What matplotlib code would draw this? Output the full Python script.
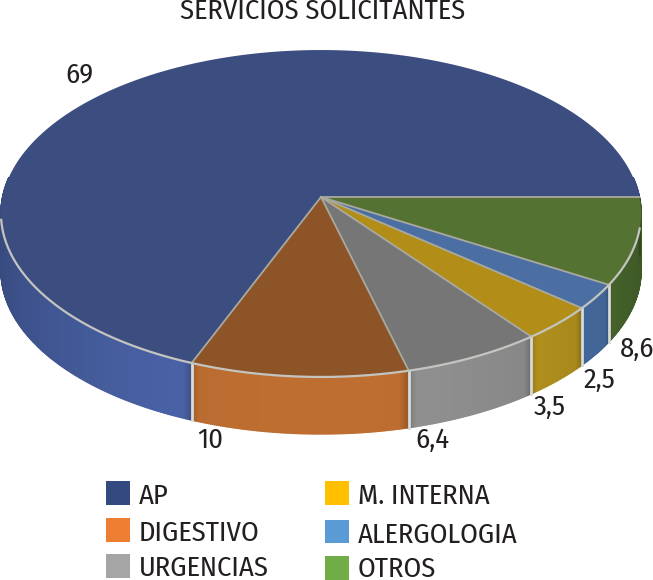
"""3D-look pie of requesting services, drawn on a pixel-scale axes."""

import matplotlib
matplotlib.use("Agg")
import matplotlib.pyplot as plt
from matplotlib import font_manager
import numpy as np

WIDTH, HEIGHT = 653, 580

TITLE = "SERVICIOS SOLICITANTES"
CATEGORIES = ["AP", "DIGESTIVO", "URGENCIAS", "M. INTERNA", "ALERGOLOGIA", "OTROS"]
VALUES = [69, 10, 6.4, 3.5, 2.5, 8.6]

TOP_COLORS = ["#3c4d80", "#8c5427", "#767676", "#b28d17", "#4b6fa3", "#547232"]
WALL_COLORS = ["#4a63a8", "#bb6c30", "#8f8f8f", "#bc991f", "#4d75b0", "#527532"]
LEGEND_COLORS = ["#34497f", "#ed7d31", "#a5a5a5", "#ffc000", "#5b9bd5", "#70ad47"]

# label left edge / baseline, in pixels
LABEL_POS = [(65, 83), (197, 448), (415, 448), (534, 415), (584, 388), (620, 357)]
# swatch left / top / bottom, text left / baseline
LEGEND_POS = [
    (106, 481, 505, 139, 504), (106, 518, 542, 139, 541), (106, 554, 578, 139, 576),
    (325, 481, 505, 358, 504), (325, 520, 543, 358, 543), (325, 556, 580, 358, 577),
]

# perspective projection of the unit disc
APEX_X, APEX_Y = 321, 197
SCALE_X, SCALE_Y = 318.4, 161.8
PERSP = 0.1009
WALL = 57

names = {f.name for f in font_manager.fontManager.ttflist}
FONT = next((n for n in ["Fira Sans Condensed", "Liberation Sans Narrow", "Liberation Sans"]
             if n in names), "DejaVu Sans")
plt.rcParams["font.family"] = [FONT, "DejaVu Sans"]
plt.rcParams["font.weight"] = 400
INK = "#231f20"


def project(deg):
    t = np.radians(deg)
    u, d = np.cos(t), -np.sin(t)
    w = 1 - PERSP * d
    return APEX_X + SCALE_X * u / w, APEX_Y + SCALE_Y * d / w


def main():
    fig = plt.figure(figsize=(WIDTH / 100, HEIGHT / 100), dpi=100)
    ax = fig.add_axes([0, 0, 1, 1])
    ax.set_xlim(0, WIDTH)
    ax.set_ylim(HEIGHT, 0)
    ax.axis("off")

    edges = np.concatenate([[0], np.cumsum(VALUES)]) / sum(VALUES) * 360

    # side wall first, as thin strips so the shading can vary along the rim
    for i, col in enumerate(WALL_COLORS):
        a0, a1 = edges[i], edges[i + 1]
        base = np.array(matplotlib.colors.to_rgb(col))
        steps = np.linspace(a0, a1, max(int((a1 - a0) * 3), 24))
        for s0, s1 in zip(steps[:-1], steps[1:]):
            mid = (s0 + s1) / 2
            if np.sin(np.radians(mid)) > 0.12:
                continue
            # darker toward the silhouette and at the wedge ends
            shade = 0.74 + 0.28 * min(1, abs(np.sin(np.radians(mid))) ** 1.5)
            frac = min(mid - a0, a1 - mid) / min(a1 - a0, 12)
            if frac < 0.12:
                shade *= 0.82 + 1.5 * frac
            c = np.clip(base * shade, 0, 1)
            xs, ys = project(np.array([s0, s1]))
            ax.fill([xs[0], xs[1], xs[1], xs[0]],
                    [ys[0], ys[1], ys[1] + WALL, ys[0] + WALL],
                    color=c, lw=1.0, zorder=1)
        # light divider at the wedge start
        x0, y0 = project(a0)
        if np.sin(np.radians(a0)) < -0.3:
            ax.plot([x0, x0], [y0, y0 + WALL], color="#d9d9d9", lw=2, zorder=2)

    # top faces
    for i, col in enumerate(TOP_COLORS):
        xs, ys = project(np.linspace(edges[i], edges[i + 1], 240))
        ax.fill(np.r_[APEX_X, xs], np.r_[APEX_Y, ys], color=col, lw=0, zorder=3)
        ax.plot([APEX_X, xs[0]], [APEX_Y, ys[0]], color="#a9a9a0", lw=1.3, zorder=4)

    # bright rim along the front of the top face
    xs, ys = project(np.linspace(188, 349, 500))
    ax.plot(xs, ys, color="#c4c4c0", lw=1.6, zorder=5)

    ax.text(323, 19, TITLE, ha="center", va="baseline", fontsize=20.5, color=INK)

    for val, (x, y) in zip(VALUES, LABEL_POS):
        ax.text(x, y, f"{val:g}".replace(".", ","), ha="left", va="baseline",
                fontsize=20.5, color=INK)

    for name, col, (sx, top, bot, tx, base) in zip(CATEGORIES, LEGEND_COLORS, LEGEND_POS):
        ax.fill([sx, sx + 24, sx + 24, sx], [top, top, bot, bot], color=col, lw=0)
        ax.text(tx, base, name, ha="left", va="baseline", fontsize=20.5, color=INK)

    fig.savefig("out.png", dpi=100)
    plt.close(fig)


if __name__ == "__main__":
    main()
